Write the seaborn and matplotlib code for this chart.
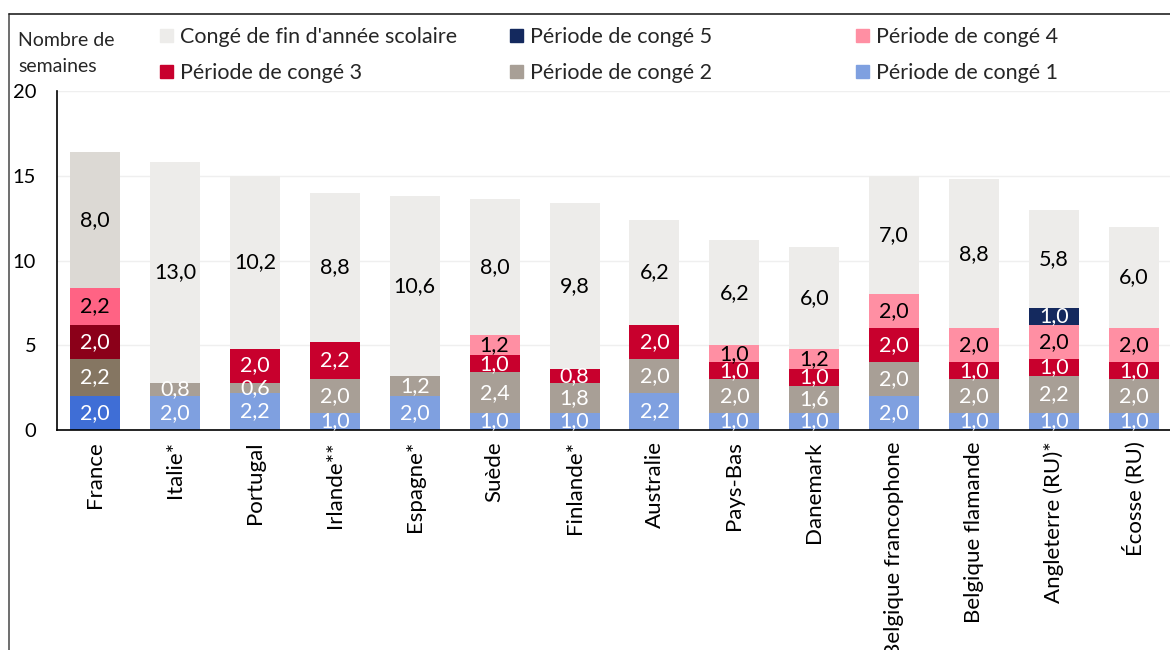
import matplotlib
matplotlib.use("Agg")
import matplotlib.pyplot as plt
import matplotlib.patches as mpatches
from matplotlib.lines import Line2D
import seaborn as sns
import pandas as pd
import numpy as np

countries = ["France", "Italie*", "Portugal", "Irlande**", "Espagne*", "Suède", "Finlande*",
             "Australie", "Pays-Bas", "Danemark", "Belgique francophone", "Belgique flamande",
             "Angleterre (RU)*", "Écosse (RU)"]
p1 = [2.0, 2.0, 2.2, 1.0, 2.0, 1.0, 1.0, 2.2, 1.0, 1.0, 2.0, 1.0, 1.0, 1.0]
p2 = [2.2, 0.8, 0.6, 2.0, 1.2, 2.4, 1.8, 2.0, 2.0, 1.6, 2.0, 2.0, 2.2, 2.0]
p3 = [2.0, 0.0, 2.0, 2.2, 0.0, 1.0, 0.8, 2.0, 1.0, 1.0, 2.0, 1.0, 1.0, 1.0]
p4 = [2.2, 0.0, 0.0, 0.0, 0.0, 1.2, 0.0, 0.0, 1.0, 1.2, 2.0, 2.0, 2.0, 2.0]
p5 = [0.0, 0.0, 0.0, 0.0, 0.0, 0.0, 0.0, 0.0, 0.0, 0.0, 0.0, 0.0, 1.0, 0.0]
fin = [8.0, 13.0, 10.2, 8.8, 10.6, 8.0, 9.8, 6.2, 6.2, 6.0, 7.0, 8.8, 5.8, 6.0]

series_names = ["Période de congé 1", "Période de congé 2", "Période de congé 3",
                "Période de congé 4", "Période de congé 5", "Congé de fin d'année scolaire"]
series_values = [p1, p2, p3, p4, p5, fin]
colors = ["#7FA0E0", "#A89F96", "#C8002D", "#FF8FA3", "#14295E", "#EDECEA"]
colors_fr = ["#3F6ED6", "#857662", "#8B0019", "#FF6384", "#14295E", "#DCD9D4"]
text_colors = ["white", "white", "white", "black", "white", "black"]

FONT = ["Lato", "DejaVu Sans"]
sns.set_theme(style="white")
plt.rcParams["font.family"] = FONT

fig = plt.figure(figsize=(11.7, 6.5), dpi=100)
W, H = 1170, 650
ax = fig.add_axes([57 / W, 1 - 430 / H, (1170 - 57) / W, (430 - 91) / H])

vals = np.array(series_values)
cum = np.cumsum(vals, axis=0)

# draw cumulative bars from top down so each segment overlays the previous
for k in range(len(series_names) - 1, -1, -1):
    df = pd.DataFrame({"pays": countries, "cum": cum[k]})
    pal = {c: (colors_fr[k] if c == "France" else colors[k]) for c in countries}
    sns.barplot(data=df, x="pays", y="cum", hue="pays", palette=pal, order=countries,
                hue_order=countries, width=0.625, saturation=1, legend=False, ax=ax,
                linewidth=0, dodge=False)

# value labels
for k in range(len(series_names)):
    for i, c in enumerate(countries):
        v = vals[k][i]
        if v <= 0:
            continue
        y = cum[k][i] - v / 2
        ax.text(i, y, f"{v:.1f}".replace(".", ","), ha="center", va="center",
                fontsize=15.5, color=text_colors[k], family=FONT)

ax.set_ylim(0, 20)
ax.set_xlim(-0.475, 13.45)
ax.set_yticks([0, 5, 10, 15, 20])
ax.yaxis.grid(True, color="#EFEFEF", linewidth=1)
ax.set_axisbelow(True)
ax.set_xlabel("")
ax.set_ylabel("")
for s in ["top", "right"]:
    ax.spines[s].set_visible(False)
for s in ["left", "bottom"]:
    ax.spines[s].set_color("black")
    ax.spines[s].set_linewidth(1.2)
ax.tick_params(axis="y", direction="in", length=4, width=1, color="black", pad=15,
               labelsize=14.5, labelcolor="black")
ax.tick_params(axis="x", length=0, pad=8, labelsize=16, labelcolor="black")
for lbl in ax.get_xticklabels():
    lbl.set_rotation(90)
    lbl.set_va("top")
    lbl.set_ha("center")

fig.text(18 / W, 1 - 40 / H, "Nombre de", fontsize=14, va="center", ha="left", family=FONT)
fig.text(18 / W, 1 - 67 / H, "semaines", fontsize=14, va="center", ha="left", family=FONT)

# legend in three columns
order_cols = [[5, 2], [4, 1], [3, 0]]
col_x = [160, 510, 856]
for col, x in zip(order_cols, col_x):
    handles = [mpatches.Patch(color=colors[k], label=series_names[k]) for k in col]
    leg = fig.legend(handles=handles, loc="upper left", bbox_to_anchor=(x / W, 1 - 27 / H),
                     frameon=False, fontsize=15.5, handlelength=0.6, handleheight=0.6,
                     handletextpad=0.35, labelspacing=0.75, borderpad=0, borderaxespad=0)
    for t in leg.get_texts():
        t.set_family(FONT)

# outer frame lines
fig.add_artist(Line2D([9 / W, 9 / W], [0, 1 - 14 / H], color="#555555", linewidth=1.2))
fig.add_artist(Line2D([9 / W, 1], [1 - 14 / H, 1 - 14 / H], color="#222222", linewidth=1.2))

fig.savefig("out.png", dpi=100)
